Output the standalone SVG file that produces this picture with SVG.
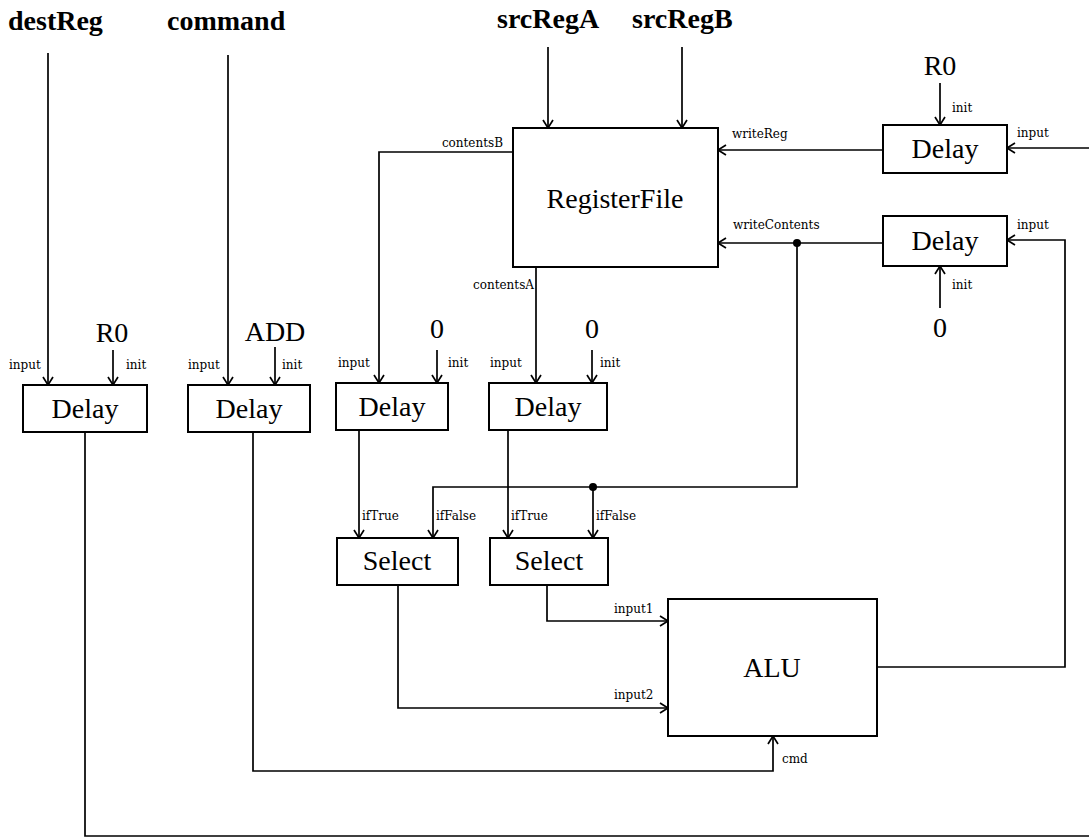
<svg xmlns="http://www.w3.org/2000/svg" width="1089" height="840" viewBox="0 0 1089 840">
<style>
.box{fill:#fff;stroke:#000;stroke-width:2}
.ln{fill:none;stroke:#000;stroke-width:1.7}
.big{font-family:"Liberation Serif","Times New Roman",serif;font-size:28px;fill:#000}
.hdr{font-family:"Liberation Serif","Times New Roman",serif;font-size:28px;font-weight:bold;fill:#000}
.sm{font-family:"DejaVu Serif","Liberation Serif",serif;font-size:12px;fill:#000}
.mid{text-anchor:middle}
.end{text-anchor:end}
</style>
<defs>
<marker id="arr" markerUnits="userSpaceOnUse" markerWidth="12" markerHeight="12" refX="9" refY="6" orient="auto">
<path d="M1,1 L9,6 L1,11" fill="none" stroke="#000" stroke-width="1.7"/>
</marker>
</defs>
<rect width="1089" height="840" fill="#fff"/>

<g id="connectors">
<path class="ln" d="M48,53 V385" marker-end="url(#arr)"/>
<path class="ln" d="M113,350 V385" marker-end="url(#arr)"/>
<path class="ln" d="M228,55 V385" marker-end="url(#arr)"/>
<path class="ln" d="M275,347 V385" marker-end="url(#arr)"/>
<path class="ln" d="M85,432 V836 H1089"/>
<path class="ln" d="M253,432 V771 H773 V736" marker-end="url(#arr)"/>
<path class="ln" d="M548,47 V128" marker-end="url(#arr)"/>
<path class="ln" d="M682,47 V128" marker-end="url(#arr)"/>
<path class="ln" d="M513,152 H379 V383" marker-end="url(#arr)"/>
<path class="ln" d="M536,267 V383" marker-end="url(#arr)"/>
<path class="ln" d="M437,350 V383" marker-end="url(#arr)"/>
<path class="ln" d="M592,350 V383" marker-end="url(#arr)"/>
<path class="ln" d="M359,430 V538" marker-end="url(#arr)"/>
<path class="ln" d="M508,430 V538" marker-end="url(#arr)"/>
<path class="ln" d="M797,243 V487 H433 V538" marker-end="url(#arr)"/>
<path class="ln" d="M593,487 V538" marker-end="url(#arr)"/>
<circle cx="797" cy="243" r="4" fill="#000"/>
<circle cx="593" cy="487" r="4" fill="#000"/>
<path class="ln" d="M398,585 V708 H668" marker-end="url(#arr)"/>
<path class="ln" d="M547,585 V621 H668" marker-end="url(#arr)"/>
<path class="ln" d="M877,667 H1065 V240 H1007" marker-end="url(#arr)"/>
<path class="ln" d="M1089,148 H1007" marker-end="url(#arr)"/>
<path class="ln" d="M940,83 V125" marker-end="url(#arr)"/>
<path class="ln" d="M883,150 H718" marker-end="url(#arr)"/>
<path class="ln" d="M883,243 H718" marker-end="url(#arr)"/>
<path class="ln" d="M940,308 V266" marker-end="url(#arr)"/>

<text class="sm" x="9" y="369">input</text>
<text class="sm" x="126" y="369">init</text>
<text class="sm" x="188" y="369">input</text>
<text class="sm" x="282" y="369">init</text>
<text class="sm" x="338" y="367">input</text>
<text class="sm" x="448" y="367">init</text>
<text class="sm" x="490" y="367">input</text>
<text class="sm" x="600" y="367">init</text>
<text class="sm end" x="503" y="147">contentsB</text>
<text class="sm end" x="534" y="289">contentsA</text>
<text class="sm" x="362" y="520">ifTrue</text>
<text class="sm" x="436" y="520">ifFalse</text>
<text class="sm" x="511" y="520">ifTrue</text>
<text class="sm" x="596" y="520">ifFalse</text>
<text class="sm" x="614" y="613">input1</text>
<text class="sm" x="614" y="699">input2</text>
<text class="sm" x="782" y="763">cmd</text>
<text class="sm" x="732" y="138">writeReg</text>
<text class="sm" x="733" y="229">writeContents</text>
<text class="sm" x="1017" y="137">input</text>
<text class="sm" x="1017" y="229">input</text>
<text class="sm" x="952" y="112">init</text>
<text class="sm" x="952" y="289">init</text>
</g>

<g id="in-destReg"><text class="hdr" x="8" y="30">destReg</text></g>
<g id="in-command"><text class="hdr" x="167" y="30">command</text></g>
<g id="in-srcRegA"><text class="hdr" x="497" y="28">srcRegA</text></g>
<g id="in-srcRegB"><text class="hdr" x="632" y="28">srcRegB</text></g>

<g id="const-R0-1"><text class="big mid" x="112" y="342">R0</text></g>
<g id="const-ADD"><text class="big mid" x="275" y="341">ADD</text></g>
<g id="const-0-1"><text class="big mid" x="437" y="338">0</text></g>
<g id="const-0-2"><text class="big mid" x="592" y="338">0</text></g>
<g id="const-R0-2"><text class="big mid" x="940" y="75">R0</text></g>
<g id="const-0-3"><text class="big mid" x="940" y="337">0</text></g>

<g id="delay1"><rect class="box" x="23" y="385" width="124" height="47"/><text class="big mid" x="85" y="418">Delay</text></g>
<g id="delay2"><rect class="box" x="188" y="385" width="122" height="47"/><text class="big mid" x="249" y="418">Delay</text></g>
<g id="delay3"><rect class="box" x="336" y="383" width="112" height="47"/><text class="big mid" x="392" y="416">Delay</text></g>
<g id="delay4"><rect class="box" x="489" y="383" width="118" height="47"/><text class="big mid" x="548" y="416">Delay</text></g>
<g id="delay5"><rect class="box" x="883" y="125" width="124" height="48"/><text class="big mid" x="945" y="158">Delay</text></g>
<g id="delay6"><rect class="box" x="883" y="216" width="124" height="50"/><text class="big mid" x="945" y="250">Delay</text></g>
<g id="registerfile"><rect class="box" x="513" y="128" width="205" height="139"/><text class="big mid" x="615" y="208">RegisterFile</text></g>
<g id="select1"><rect class="box" x="337" y="538" width="121" height="47"/><text class="big mid" x="397" y="570">Select</text></g>
<g id="select2"><rect class="box" x="490" y="538" width="118" height="47"/><text class="big mid" x="549" y="570">Select</text></g>
<g id="alu"><rect class="box" x="668" y="599" width="209" height="137"/><text class="big mid" x="772" y="677">ALU</text></g>
</svg>
